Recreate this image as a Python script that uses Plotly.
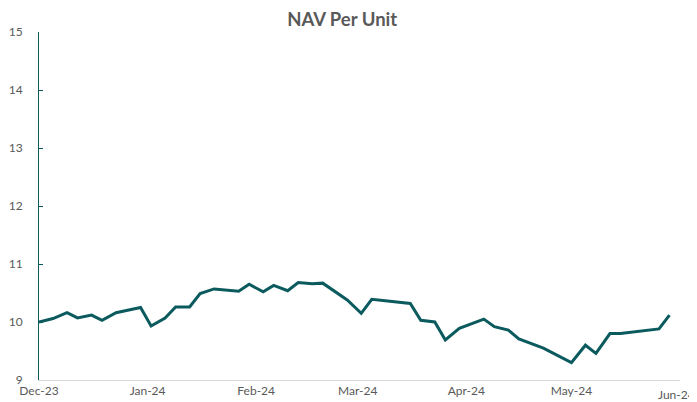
import plotly.graph_objects as go

dates = [
    "2023-12-01", "2023-12-05", "2023-12-09", "2023-12-12", "2023-12-16", "2023-12-19",
    "2023-12-23", "2023-12-30", "2024-01-02", "2024-01-06", "2024-01-09", "2024-01-13",
    "2024-01-16", "2024-01-20", "2024-01-27", "2024-01-30", "2024-02-03", "2024-02-06",
    "2024-02-10", "2024-02-13", "2024-02-17", "2024-02-20", "2024-02-27", "2024-03-02",
    "2024-03-05", "2024-03-16", "2024-03-19", "2024-03-23", "2024-03-26", "2024-03-30",
    "2024-04-06", "2024-04-09", "2024-04-13", "2024-04-16", "2024-04-23", "2024-05-01",
    "2024-05-05", "2024-05-08", "2024-05-12", "2024-05-15", "2024-05-26", "2024-05-29",
]
nav = [
    10.00, 10.06, 10.16, 10.07, 10.12, 10.03,
    10.16, 10.25, 9.93, 10.07, 10.26, 10.26,
    10.49, 10.57, 10.53, 10.65, 10.52, 10.63,
    10.54, 10.68, 10.66, 10.67, 10.38, 10.15,
    10.39, 10.32, 10.03, 10.00, 9.69, 9.89,
    10.05, 9.92, 9.86, 9.71, 9.55, 9.30,
    9.60, 9.46, 9.80, 9.80, 9.88, 10.12,
]
x_ticks = ["2023-12-01", "2024-01-01", "2024-02-01", "2024-03-01", "2024-04-01", "2024-05-01", "2024-06-01"]
x_tick_labels = ["Dec-23", "Jan-24", "Feb-24", "Mar-24", "Apr-24", "May-24", "Jun-24"]
y_ticks = [9, 10, 11, 12, 13, 14, 15]

teal = "#0b5a5e"
gray = "#595959"
fam = "Lato, Open Sans, sans-serif"

# the last label is drawn as an annotation, right-aligned so it stays inside the page (as Excel does)
tick_text = list(x_tick_labels[:-1]) + [""]

fig = go.Figure(go.Scatter(
    x=dates, y=nav, mode="lines",
    line=dict(color=teal, width=3),
    hoverinfo="x+y",
))

fig.update_layout(
    width=689, height=394,
    margin=dict(l=31, r=17, t=24, b=22, autoexpand=False),
    paper_bgcolor="white", plot_bgcolor="white",
    showlegend=False,
    title=dict(text="<b>NAV Per Unit</b>", x=0.485, xanchor="center", y=0.97, yanchor="middle",
               font=dict(family=fam, size=18.5, color=gray)),
    font=dict(family=fam, size=12, color=gray),
    annotations=[dict(
        text=x_tick_labels[-1], xref="paper", yref="paper",
        x=1.025, y=-0.043, xanchor="right", yanchor="middle",
        showarrow=False, borderpad=0,
        font=dict(family=fam, size=12, color=gray),
    )],
)
fig.update_xaxes(
    type="date", range=["2023-12-01", "2024-06-01"],
    tickvals=x_ticks, ticktext=tick_text,
    showgrid=False, zeroline=False, automargin=False,
    showline=True, linecolor="#d9d9d9", linewidth=1,
    ticks="", tickfont=dict(size=12, color=gray),
)
fig.update_yaxes(
    range=[9, 15], tickvals=y_ticks,
    showgrid=False, zeroline=False, automargin=False,
    showline=True, linecolor=teal, linewidth=1,
    ticks="inside", ticklen=4, tickcolor=teal,
    ticklabelstandoff=13,
    tickfont=dict(size=12, color=gray),
)

fig.write_html("out.html")
